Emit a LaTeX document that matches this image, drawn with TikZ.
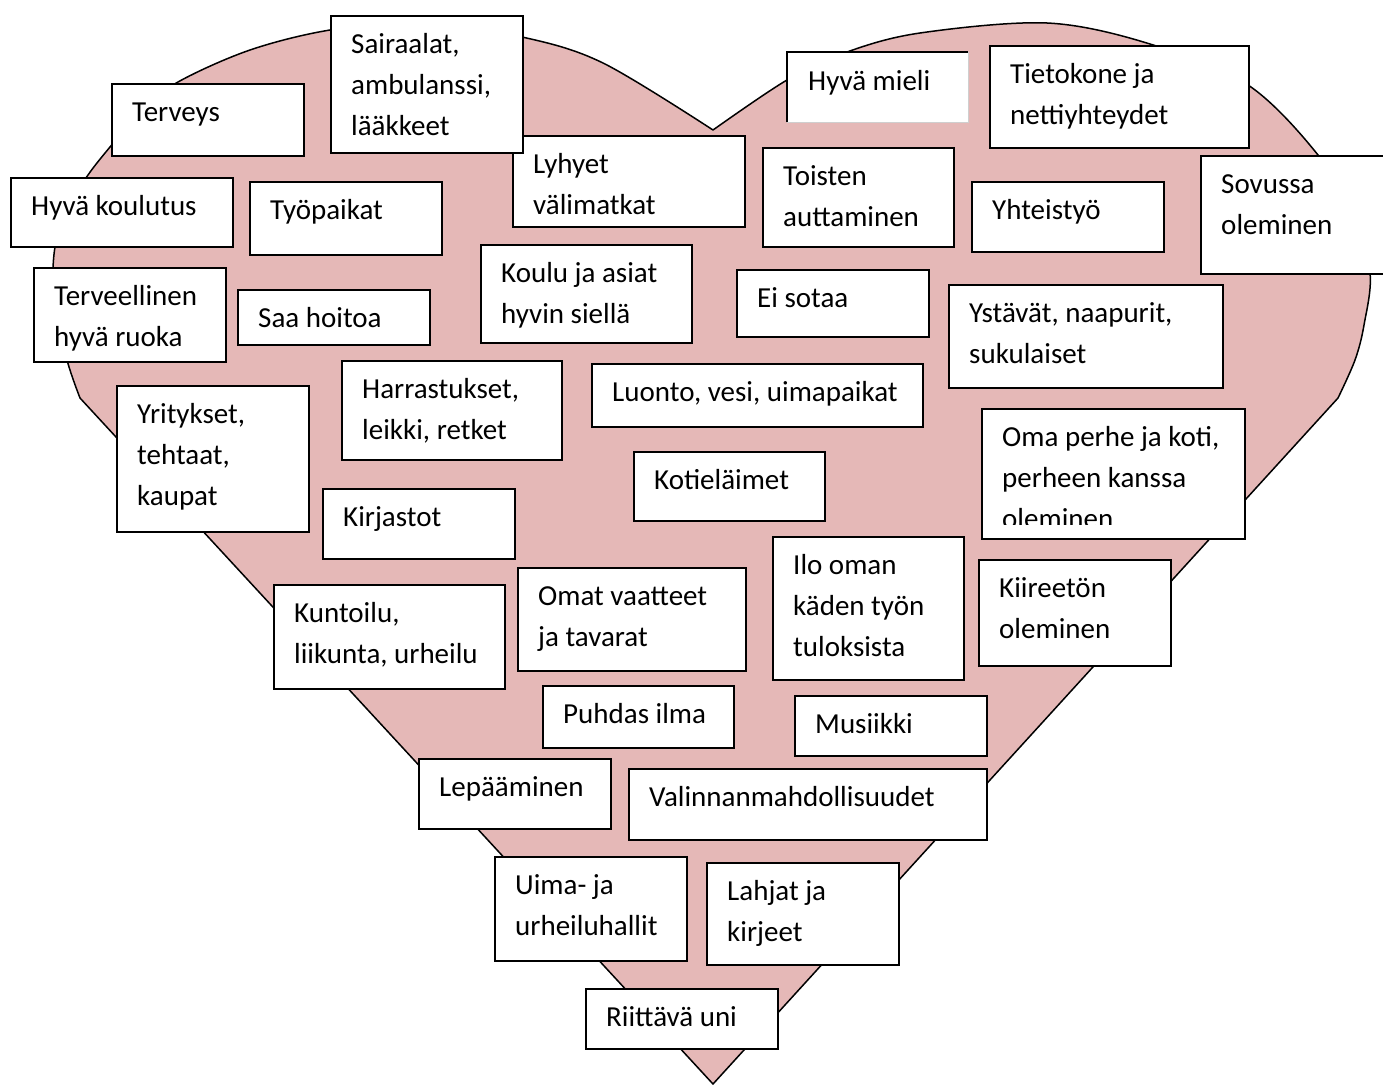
\documentclass[tikz,border=0pt]{standalone}
\usepackage{fontspec}
\setmainfont{Carlito}
\definecolor{heartpink}{HTML}{E5B8B7}
\definecolor{edgegray}{HTML}{CFCFCF}
\newcommand\rivi[1]{\hbox{#1}}
\tikzset{
  heart/.style={draw=black, line width=1.5pt, fill=heartpink, line join=round},
  box/.style={draw=black, fill=white, line width=1.8pt, inner sep=0pt},
  plainbox/.style={draw=none, fill=white, inner sep=0pt},
  lbl/.style={inner sep=0pt, anchor=base west, font=\fontsize{29}{41}\selectfont}
}
\newcommand\tbox[6]{%
  \node[box, anchor=north west, minimum width={(#4-#2)*1pt}, minimum height={(#5-#3)*1pt}] (#1) at (#2,#3) {};
  \node[lbl] (#1-t) at ({#2+21},{#3+38}) {\vtop{\baselineskip=41pt #6}};
}
\begin{document}
\begin{tikzpicture}[x=1pt,y=-1pt]
\path[use as bounding box] (0,0) rectangle (1383,1084);
\clip (0,0) rectangle (1383,1084);
% heart
\path[heart] (713,1084) -- (80,398)
  -- plot[smooth, tension=0.55] coordinates {(80,398) (67,360) (54,300) (55,247) (70,205) (88,175) (110,147) (140,112) (178,82) (250,50) (330,30) (420,22) (522,37) (603,63) (713,130)}
  -- plot[smooth, tension=0.55] coordinates {(713,130) (787,80) (847,52) (920,33) (1047,23) (1150,44) (1248,85) (1318,155) (1352,215) (1370,273) (1364,325) (1355,360) (1338,398)}
  -- cycle;
% boxes
\tbox{terveys}{111}{83}{303}{155}{\rivi{Terveys}}
\tbox{lyhyet}{512}{135}{744}{226}{\rivi{Lyhyet}\rivi{välimatkat}}
\tbox{sairaalat}{330}{15}{522}{152}{\rivi{Sairaalat,}\rivi{ambulanssi,}\rivi{lääkkeet}}
% Hyvä mieli (light right/bottom edges)
\node[plainbox, anchor=north west, minimum width=181pt, minimum height=70pt] (hyvamieli) at (787,52) {};
\draw[edgegray, line width=1.2pt] (hyvamieli.north east) -- (hyvamieli.south east) -- (hyvamieli.south west);
\draw[black, line width=1.8pt] (hyvamieli.south west) -- (hyvamieli.north west) -- (hyvamieli.north east);
\node[lbl] (hyvamieli-t) at (808,90) {\vtop{\rivi{Hyvä mieli}}};
\tbox{tietokone}{989}{45}{1248}{147}{\rivi{Tietokone ja}\rivi{nettiyhteydet}}
\tbox{koulutus}{10}{177}{232}{246}{\rivi{Hyvä koulutus}}
\tbox{tyopaikat}{249}{181}{441}{254}{\rivi{Työpaikat}}
\tbox{toisten}{762}{147}{953}{246}{\rivi{Toisten}\rivi{auttaminen}}
\tbox{yhteistyo}{971}{181}{1163}{251}{\rivi{Yhteistyö}}
\tbox{sovussa}{1200}{155}{1390}{273}{\rivi{Sovussa}\rivi{oleminen}}
\tbox{ruoka}{33}{267}{225}{361}{\rivi{Terveellinen}\rivi{hyvä ruoka}}
\tbox{hoitoa}{237}{289}{429}{344}{\rivi{Saa hoitoa}}
\tbox{koulu}{480}{244}{691}{342}{\rivi{Koulu ja asiat}\rivi{hyvin siellä}}
\tbox{sotaa}{736}{269}{928}{336}{\rivi{Ei sotaa}}
\tbox{ystavat}{948}{284}{1222}{387}{\rivi{Ystävät, naapurit,}\rivi{sukulaiset}}
\tbox{yritykset}{116}{385}{308}{531}{\rivi{Yritykset,}\rivi{tehtaat,}\rivi{kaupat}}
\tbox{harrastukset}{341}{360}{561}{459}{\rivi{Harrastukset,}\rivi{leikki, retket}}
\tbox{luonto}{591}{363}{922}{426}{\rivi{Luonto, vesi, uimapaikat}}
% Oma perhe (last line clipped)
\node[box, anchor=north west, minimum width=263pt, minimum height=130pt] (perhe) at (981,408) {};
\begin{scope}
\clip (981,409) rectangle (1244,524);
\node[lbl] (perhe-t) at (1002,446) {\vtop{\baselineskip=41pt \rivi{Oma perhe ja koti,}\rivi{perheen kanssa}\rivi{oleminen}}};
\end{scope}
\tbox{kirjastot}{322}{488}{514}{558}{\rivi{Kirjastot}}
\tbox{kotielaimet}{633}{451}{824}{520}{\rivi{Kotieläimet}}
\tbox{ilo}{772}{536}{963}{679}{\rivi{Ilo oman}\rivi{käden työn}\rivi{tuloksista}}
\tbox{kiireeton}{978}{559}{1170}{665}{\rivi{Kiireetön}\rivi{oleminen}}
\tbox{kuntoilu}{273}{584}{504}{688}{\rivi{Kuntoilu,}\rivi{liikunta, urheilu}}
\tbox{vaatteet}{517}{567}{745}{670}{\rivi{Omat vaatteet}\rivi{ja tavarat}}
\tbox{ilma}{542}{685}{733}{747}{\rivi{Puhdas ilma}}
\tbox{musiikki}{794}{695}{986}{755}{\rivi{Musiikki}}
\tbox{lepaaminen}{418}{758}{610}{828}{\rivi{Lepääminen}}
\tbox{valinnan}{628}{768}{986}{839}{\rivi{Valinnanmahdollisuudet}}
\tbox{uima}{494}{856}{686}{960}{\rivi{Uima- ja}\rivi{urheiluhallit}}
\tbox{lahjat}{706}{862}{898}{964}{\rivi{Lahjat ja}\rivi{kirjeet}}
\tbox{uni}{585}{988}{777}{1048}{\rivi{Riittävä uni}}
\end{tikzpicture}
\end{document}
